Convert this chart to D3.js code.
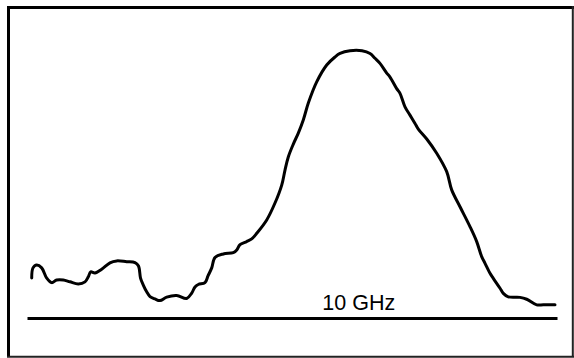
<!DOCTYPE html>
<html>
<head>
<meta charset="utf-8">
<script src="https://cdn.jsdelivr.net/npm/d3@7/dist/d3.min.js"></script>
<style>
  html, body { margin: 0; padding: 0; background: #fff; }
  svg { display: block; }
</style>
</head>
<body>
<svg id="chart" width="574" height="358"></svg>
<script>
// Relative frequency position (0–100 across the baseline)
const freq = [
  0.89, 1.13, 1.83, 2.77, 3.72, 4.66, 5.60, 6.85, 8.11, 9.68,
  10.94, 11.57, 12.02, 12.83, 14.09, 15.66, 16.92, 18.81, 20.38, 21.04,
  21.42, 21.94, 22.58, 23.21, 24.15, 25.09, 26.36, 28.25, 30.13, 31.08,
  31.70, 32.32, 33.58, 34.15, 34.85, 35.47, 37.04, 38.92, 39.57, 40.19,
  41.45, 42.40, 43.34, 45.23, 46.79, 48.06, 48.68, 49.30, 50.25, 51.19,
  52.13, 53.08, 54.66, 56.55, 58.11, 59.06, 60.94, 63.21, 64.72, 65.66,
  66.60, 67.87, 68.49, 69.75, 70.38, 71.32, 72.26, 73.21, 73.83, 75.42,
  77.30, 79.19, 80.13, 81.70, 83.58, 84.85, 85.79, 86.42, 87.36, 87.98,
  89.25, 89.87, 90.81, 93.02, 94.28, 96.17, 97.42, 99.62
];
// Relative amplitude (0 = baseline, 100 = peak)
const amplitude = [
  14.9, 18.7, 19.8, 18.7, 14.9, 13.2, 14.2, 14.2, 13.5, 12.7,
  13.5, 15.4, 17.2, 16.8, 18.2, 20.6, 21.3, 21.0, 20.7, 19.4,
  14.9, 12.3, 9.8, 8.0, 7.1, 6.5, 7.8, 8.4, 7.3, 9.3,
  11.6, 12.5, 13.2, 15.7, 18.7, 22.6, 23.9, 24.4, 25.4, 27.4,
  28.5, 29.5, 31.6, 36.6, 42.9, 49.6, 55.2, 60.1, 64.9, 69.0,
  73.9, 80.2, 88.1, 94.4, 97.4, 98.7, 99.7, 99.7, 98.7, 96.9,
  95.0, 91.4, 89.9, 85.6, 83.8, 78.8, 75.7, 72.6, 70.5, 66.8,
  61.5, 54.6, 47.8, 41.5, 34.1, 28.5, 22.9, 20.4, 16.7, 14.8,
  11.1, 9.2, 7.9, 7.7, 7.0, 4.9, 4.9, 4.9
];
const tickValues = [62.5];
const tickLabels = ["10 GHz"];

const svg = d3.select("#chart");

const x = d3.scaleLinear().domain([0, 100]).range([27, 557]);
const y = d3.scaleLinear().domain([0, 100]).range([318, 50]);

// Frame
const frame = svg.append("g");
frame.append("line").attr("x1", 8.5).attr("x2", 8.5).attr("y1", 6).attr("y2", 357)
  .attr("stroke", "#000").attr("stroke-width", 3);
frame.append("line").attr("x1", 7).attr("x2", 574).attr("y1", 7.5).attr("y2", 7.5)
  .attr("stroke", "#000").attr("stroke-width", 3);
frame.append("line").attr("x1", 572.8).attr("x2", 572.8).attr("y1", 6).attr("y2", 357)
  .attr("stroke", "#222").attr("stroke-width", 2);
frame.append("line").attr("x1", 7).attr("x2", 574).attr("y1", 356.8).attr("y2", 356.8)
  .attr("stroke", "#222").attr("stroke-width", 2);

// Baseline axis with label above
const axis = d3.axisTop(x)
  .tickValues(tickValues)
  .tickFormat((d, i) => tickLabels[i])
  .tickSize(0)
  .tickSizeOuter(0)
  .tickPadding(8);

const ax = svg.append("g")
  .attr("transform", `translate(0,${y(0)})`)
  .call(axis);
ax.select(".domain").attr("stroke", "#000").attr("stroke-width", 3);
ax.selectAll(".tick text")
  .attr("fill", "#000")
  .style("font-family", "'Liberation Sans', Arial, sans-serif")
  .style("font-size", "21.5px");

// Spectrum curve
const data = freq.map((f, i) => ({ f, a: amplitude[i] }));
const line = d3.line()
  .x(d => x(d.f))
  .y(d => y(d.a))
  .curve(d3.curveCatmullRom.alpha(0.5));

svg.append("path")
  .datum(data)
  .attr("fill", "none")
  .attr("stroke", "#000")
  .attr("stroke-width", 3)
  .attr("stroke-linejoin", "round")
  .attr("stroke-linecap", "round")
  .attr("d", line);
</script>
</body>
</html>
